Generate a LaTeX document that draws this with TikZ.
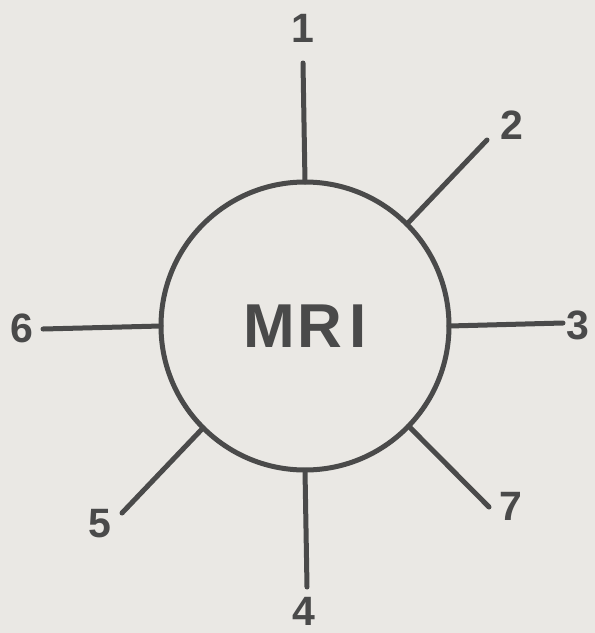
\documentclass[tikz,border=0pt]{standalone}
\usepackage{fontspec}
\setmainfont{Liberation Sans}
\newfontfamily\lettering{Liberation Sans Bold}
\usepackage{tikz}
\usetikzlibrary{positioning}
\definecolor{cink}{RGB}{74,74,74}
\definecolor{cpaper}{RGB}{234,232,228}

\begin{document}
\begin{tikzpicture}[
  x=1pt,y=-1pt,
  hub/.style={circle,draw=cink,line width=5pt,minimum size=288pt,inner sep=0,outer sep=0,
    font=\lettering\fontsize{62}{62}\selectfont,text=cink},
  num/.style={inner sep=0,font=\lettering\fontsize{41}{41}\selectfont,text=cink},
  spoke/.style={draw=cink,line width=5pt,line cap=round},
]
\fill[cpaper] (0,0) rectangle (595,633);
\useasboundingbox (0,0) rectangle (595,633);

% hub
\node[hub] (mri) at (305,326) {M\kern3pt R\kern7pt I};

% free ends of the spokes
\coordinate (e1) at (303,63);  \coordinate (e2) at (487,140);
\coordinate (e3) at (563,323); \coordinate (e4) at (307,587);
\coordinate (e5) at (122,513); \coordinate (e6) at (43,329);
\coordinate (e7) at (489,507);

% labels
\node[num] (n1) at (303,28) {1};  \node[num] (n2) at (512,125) {2};
\node[num] (n3) at (578,325) {3}; \node[num] (n4) at (304,611) {4};
\node[num] (n5) at (100,524) {5}; \node[num] (n6) at (22,328) {6};
\node[num] (n7) at (511,506) {7};

% spokes
\draw[spoke] (mri.90) -- (e1);
\draw[spoke] (mri.45.6) -- (e2);
\draw[spoke] (mri.0) -- (e3);
\draw[spoke] (mri.270) -- (e4);
\draw[spoke] (mri.225.5) -- (e5);
\draw[spoke] (mri.180) -- (e6);
\draw[spoke] (mri.-44.7) -- (e7);
\end{tikzpicture}
\end{document}
